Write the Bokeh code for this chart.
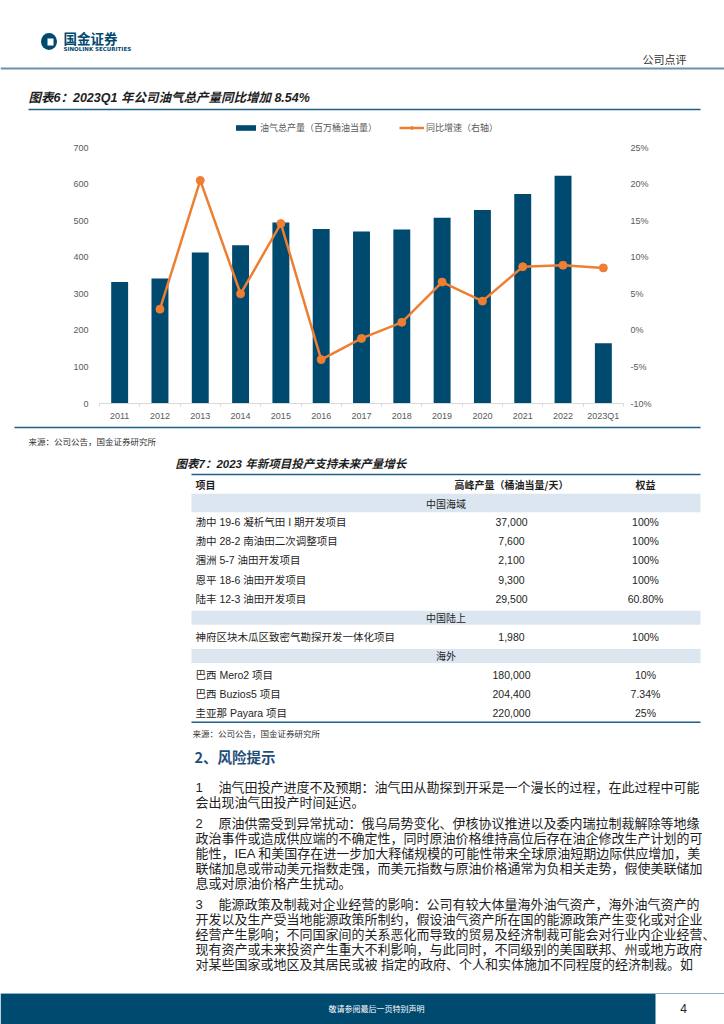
from bokeh.plotting import figure
from bokeh.models import (Range1d, LinearAxis, FixedTicker, PrintfTickFormatter,
                          Legend, LegendItem, ColumnDataSource)
from bokeh.embed import file_html
from bokeh.resources import INLINE
from bokeh.core.properties import value

# ---------------- data ----------------
years = ["2011", "2012", "2013", "2014", "2015", "2016", "2017", "2018",
         "2019", "2020", "2021", "2022", "2023Q1"]
production = [332, 342, 413, 433, 495, 477, 470, 476, 508, 529, 573, 623, 165]
growth = [float("nan"), 2.9, 20.5, 5.0, 14.6, -4.0, -1.1, 1.1, 6.6, 4.0, 8.7, 8.9, 8.54]
left_ticks = [0, 100, 200, 300, 400, 500, 600, 700]
right_ticks = [-10, -5, 0, 5, 10, 15, 20, 25]

table_header = ["项目", "高峰产量（桶油当量/天）", "权益"]
sections = ["中国海域", "中国陆上", "海外"]
projects = ["渤中 19-6 凝析气田 I 期开发项目", "渤中 28-2 南油田二次调整项目", "涠洲 5-7 油田开发项目",
            "恩平 18-6 油田开发项目", "陆丰 12-3 油田开发项目",
            "神府区块木瓜区致密气勘探开发一体化项目",
            "巴西 Mero2 项目", "巴西 Buzios5 项目", "圭亚那 Payara 项目"]
project_section = [0, 0, 0, 0, 0, 1, 2, 2, 2]
peak_output = ["37,000", "7,600", "2,100", "9,300", "29,500", "1,980", "180,000", "204,400", "220,000"]
stake = ["100%", "100%", "100%", "100%", "60.80%", "100%", "10%", "7.34%", "25%"]

risk_paras = [
    ["1", "油气田投产进度不及预期：油气田从勘探到开采是一个漫长的过程，在此过程中可能",
     "会出现油气田投产时间延迟。"],
    ["2", "原油供需受到异常扰动：俄乌局势变化、伊核协议推进以及委内瑞拉制裁解除等地缘",
     "政治事件或造成供应端的不确定性，同时原油价格维持高位后存在油企修改生产计划的可",
     "能性，IEA 和美国存在进一步加大释储规模的可能性带来全球原油短期边际供应增加，美",
     "联储加息或带动美元指数走强，而美元指数与原油价格通常为负相关走势，假使美联储加",
     "息或对原油价格产生扰动。"],
    ["3", "能源政策及制裁对企业经营的影响：公司有较大体量海外油气资产，海外油气资产的",
     "开发以及生产受当地能源政策所制约，假设油气资产所在国的能源政策产生变化或对企业",
     "经营产生影响；不同国家间的关系恶化而导致的贸易及经济制裁可能会对行业内企业经营、",
     "现有资产或未来投资产生重大不利影响，与此同时，不同级别的美国联邦、州或地方政府",
     "对某些国家或地区及其居民或被 指定的政府、个人和实体施加不同程度的经济制裁。如"],
]

# ---------------- style ----------------
CJK = "Noto Sans CJK SC"
LAT = "Liberation Sans, Noto Sans CJK SC"
BLUE = "#00496F"
ORANGE = "#EE7E31"
RULE = "#1F5F8B"
GRAY = "#595959"
TEXT = "#1e1e1e"
BAND = "#DCE6F1"

W = 724
X0, X1 = 0, 724


def page_fig(y_top, y_bot):
    p = figure(width=W, height=y_bot - y_top, x_range=Range1d(X0, X1),
               y_range=Range1d(y_bot, y_top), output_backend="svg",
               toolbar_location=None, x_axis_type=None, y_axis_type=None,
               min_border=0)
    p.outline_line_color = None
    p.background_fill_color = "white"
    p.border_fill_color = "white"
    return p


def txt(p, x, y, s, size, color=TEXT, font=CJK, style="normal", align="left"):
    p.text(x=[x], y=[y], text=[s], text_font=value(font),
           text_font_size=value(f"{size}px"), text_font_style=style,
           text_color=color, text_align=align, text_baseline="middle")


def hline(p, x0, x1, y, color, w):
    p.segment(x0=[x0], y0=[y], x1=[x1], y1=[y], line_color=color, line_width=w)


# ---------------- top part of page ----------------
TOP_H = 120
top = page_fig(0, TOP_H)
top.ellipse(x=[48.5], y=[41], width=[16], height=[17], fill_color=BLUE, line_color=None)
top.rect(x=[50], y=[41.5], width=[6], height=[7], fill_color="white", line_color=None)
txt(top, 63, 37, "国金证券", 13.5, color=BLUE, style="bold")
txt(top, 63, 48, "SINOLINK SECURITIES", 5.5, color=BLUE, font="DejaVu Sans", style="bold")
txt(top, 642, 58, "公司点评", 11, color="#333333")
hline(top, X0, X1, 68, "#6E90B0", 2)
txt(top, 28, 97, "图表6：2023Q1 年公司油气总产量同比增加 8.54%", 12.5, font=LAT, style="bold italic")
hline(top, 28, 700, 109, RULE, 1.5)

# ---------------- chart ----------------
CH_BOT = 425
CH_H = CH_BOT - TOP_H
frame_left, frame_right = 99, 623
px_700, px_0 = 147, 403            # pixel rows of the 700 / 0 ticks
frame_h = px_0 - TOP_H
y_end = 700 * frame_h / (px_0 - px_700)
pct_end = -10 + 35 * frame_h / (px_0 - px_700)

idx = list(range(len(years)))
src = ColumnDataSource(dict(x=idx, prod=production, growth=growth))

ch = figure(width=W, height=CH_H, x_range=Range1d(-0.5, len(years) - 0.5),
            y_range=Range1d(0, y_end), output_backend="svg", toolbar_location=None,
            min_border_left=frame_left, min_border_right=W - frame_right,
            min_border_top=0, min_border_bottom=CH_BOT - px_0)
ch.outline_line_color = None
ch.xgrid.visible = False
ch.ygrid.visible = False
ch.extra_y_ranges = {"pct": Range1d(-10, pct_end)}

bars = ch.vbar(x="x", top="prod", width=0.42, source=src, fill_color=BLUE, line_color=None)
ln = ch.line(x="x", y="growth", source=src, y_range_name="pct", line_color=ORANGE, line_width=2.5)
sc = ch.scatter(x="x", y="growth", source=src, y_range_name="pct", size=8,
                fill_color=ORANGE, line_color=ORANGE)

xa = ch.xaxis[0]
xa.ticker = FixedTicker(ticks=idx, minor_ticks=[i - 0.5 for i in range(len(years) + 1)])
xa.major_label_overrides = {i: y for i, y in enumerate(years)}
xa.axis_line_color = "#d9d9d9"
xa.major_tick_line_color = None
xa.minor_tick_line_color = "#d9d9d9"
xa.minor_tick_out = 3
xa.minor_tick_in = 0
xa.major_tick_out = 0
xa.major_label_standoff = 4
xa.major_label_text_font = LAT
xa.major_label_text_font_size = "9px"
xa.major_label_text_color = GRAY

ya = ch.yaxis[0]
ya.ticker = FixedTicker(ticks=left_ticks)
ya.axis_line_color = None
ya.major_tick_line_color = None
ya.minor_tick_line_color = None
ya.major_tick_out = 0
ya.major_label_standoff = 11
ya.major_label_text_font = LAT
ya.major_label_text_font_size = "9px"
ya.major_label_text_color = GRAY

ra = LinearAxis(y_range_name="pct", ticker=FixedTicker(ticks=right_ticks),
                formatter=PrintfTickFormatter(format="%d%%"))
ra.axis_line_color = None
ra.major_tick_line_color = None
ra.minor_tick_line_color = None
ra.major_tick_out = 0
ra.major_label_standoff = 7
ra.major_label_text_font = LAT
ra.major_label_text_font_size = "9px"
ra.major_label_text_color = GRAY
ch.add_layout(ra, "right")

leg = Legend(items=[LegendItem(label="油气总产量（百万桶油当量）", renderers=[bars]),
                    LegendItem(label="同比增速（右轴）", renderers=[ln, sc])],
             orientation="horizontal", location=(233 - frame_left, frame_h - 14))
leg.glyph_width = 25
leg.glyph_height = 7
leg.label_height = 12
leg.label_standoff = 2
leg.spacing = 22
leg.padding = 0
leg.margin = 0
leg.border_line_color = None
leg.background_fill_alpha = 0
leg.label_text_font = CJK
leg.label_text_font_size = "9px"
leg.label_text_color = GRAY
ch.add_layout(leg)

# ---------------- bottom part of page ----------------
bot = page_fig(CH_BOT, 1024)
hline(bot, 14, 700, 427, RULE, 1.5)
txt(bot, 28, 440, "来源：公司公告，国金证券研究所", 8.5, color="#333333")

txt(bot, 175, 463, "图表7：2023 年新项目投产支持未来产量增长", 11.5, font=LAT, style="bold italic")
hline(bot, 191, 700, 474, RULE, 1.5)

row_h = 19.1
y_head = 483.5
col_num_x = 511
col_stake_x = 645
txt(bot, 195, y_head, table_header[0], 10, style="bold")
txt(bot, col_num_x, y_head, table_header[1], 10, style="bold", align="center")
txt(bot, col_stake_x, y_head, table_header[2], 10, style="bold", align="center")

row = 1
last_sec = -1
for k, name in enumerate(projects):
    s = project_section[k]
    if s != last_sec:
        yc = y_head + row * row_h
        bh = 18.5 if s == 0 else 14
        bot.rect(x=[445.5], y=[yc], width=[509], height=[bh], fill_color=BAND, line_color=None)
        txt(bot, 445.5, yc, sections[s], 10, align="center")
        row += 1
        last_sec = s
    yc = y_head + row * row_h
    txt(bot, 195, yc, name, 10.5, font=LAT)
    txt(bot, col_num_x, yc, peak_output[k], 10.5, font=LAT, align="center")
    txt(bot, col_stake_x, yc, stake[k], 10.5, font=LAT, align="center")
    row += 1
y_last = y_head + (row - 1) * row_h + 9
hline(bot, 191, 700, y_last, RULE, 1.5)
txt(bot, 192, y_last + 11, "来源：公司公告，国金证券研究所", 8.5, color="#333333")

txt(bot, 194, 756, "2、风险提示", 14.5, color="#1F4E79", style="bold")

y = 787
for para in risk_paras:
    txt(bot, 195, y, para[0], 13, font=LAT)
    for j, line in enumerate(para[1:]):
        x = 218 if j == 0 else 195
        txt(bot, x, y, line, 13, font=LAT)
        y += 15
    y += 6

# footer
bot.rect(x=[655 / 2], y=[1009], width=[655], height=[32], fill_color=BLUE, line_color=None)
hline(bot, X0, X1, 993, "#8FB0C8", 1)
txt(bot, 328, 1008, "敬请参阅最后一页特别声明", 8, color="white")
txt(bot, 683, 1008, "4", 12, font=LAT, color="#222222", align="center")

open("out.html", "w").write(file_html([top, ch, bot], INLINE))
